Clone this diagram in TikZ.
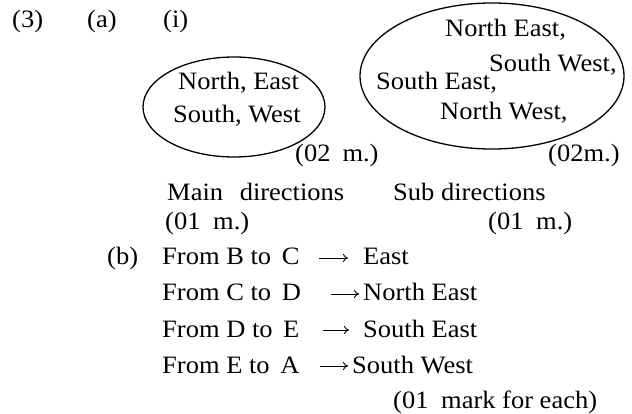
\documentclass[tikz,border=0pt]{standalone}
\usepackage{fontspec}
\setmainfont{Liberation Serif}[FakeStretch=1.06]
\usetikzlibrary{shapes.geometric,arrows.meta}
\tikzset{
  txt/.style={anchor=base west, inner sep=0pt, font=\fontsize{25}{30}\selectfont},
  oval/.style={ellipse, draw, line width=1.3pt, inner sep=0pt},
  dirarrow/.style={line width=0.9pt, -{To[length=5pt,width=8pt]}}
}
\begin{document}
\begin{tikzpicture}[x=1pt,y=-1pt]
\useasboundingbox (0,0) rectangle (632,414);
% headings
\node[txt] (n3) at (12,28) {(3)};
\node[txt] (na) at (87,28) {(a)};
\node[txt] (ni) at (163,28) {(i)};
% ellipse 1
\node[oval, minimum width=182pt, minimum height=100pt] (e1) at (234,107) {};
\node[txt] (m1) at (178,90) {North, East};
\node[txt] (m2) at (173,123) {South, West};
% ellipse 2
\node[oval, minimum width=264pt, minimum height=146pt] (e2) at (492,76) {};
\node[txt] (s1) at (445,37) {North East,};
\node[txt] (s2) at (489,72) {South West,};
\node[txt] (s3) at (376,90) {South East,};
\node[txt] (s4) at (440,120) {North West,};
% marks
\node[txt] (k1) at (295,162) {(02\hspace{12pt}m.)};
\node[txt] (k2) at (548,162) {(02m.)};
\node[txt] (l1) at (167,201) {Main\hspace{10pt} directions};
\node[txt] (l2) at (393,201) {Sub directions};
\node[txt] (k3) at (165,230) {(01\hspace{6pt} m.)};
\node[txt] (k4) at (488,230) {(01\hspace{6pt} m.)};
% part b
\node[txt] (nb) at (107,265) {(b)};
\node[txt] (f1) at (162,265) {From B to\hspace{4pt} C};
\coordinate (a1s) at (319,258); \coordinate (a1e) at (348,258);
\draw[dirarrow] (a1s) -- (a1e);
\node[txt] (d1) at (363,265) {East};
\node[txt] (f2) at (162,301) {From C to\hspace{4pt} D};
\coordinate (a2s) at (331,294); \coordinate (a2e) at (359,294);
\draw[dirarrow] (a2s) -- (a2e);
\node[txt] (d2) at (363,301) {North East};
\node[txt] (f3) at (162,337) {From D to\hspace{4pt} E};
\coordinate (a3s) at (323,330); \coordinate (a3e) at (349,330);
\draw[dirarrow] (a3s) -- (a3e);
\node[txt] (d3) at (363,337) {South East};
\node[txt] (f4) at (162,373) {From E to\hspace{4pt} A};
\coordinate (a4s) at (320,366); \coordinate (a4e) at (348,366);
\draw[dirarrow] (a4s) -- (a4e);
\node[txt] (d4) at (352,373) {South West};
\node[txt] (k5) at (393,408) {(01\hspace{6pt} mark for each)};
\end{tikzpicture}
\end{document}
